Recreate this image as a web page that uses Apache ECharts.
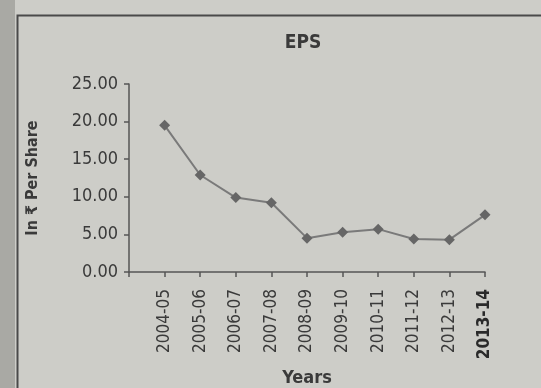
<!DOCTYPE html>
<html>
<head>
<meta charset="utf-8">
<script src="https://cdn.jsdelivr.net/npm/echarts@6/dist/echarts.min.js"></script>
<style>
  html, body { margin: 0; padding: 0; }
  #chart { width: 541px; height: 388px; }
</style>
</head>
<body>
<div id="chart"></div>
<script>
// data
const years = ['2004-05', '2005-06', '2006-07', '2007-08', '2008-09', '2009-10', '2010-11', '2011-12', '2012-13', '2013-14']
const eps = [19.5, 12.9, 9.9, 9.2, 4.5, 5.3, 5.7, 4.4, 4.3, 7.6]
const yTicks = [0, 5, 10, 15, 20, 25]

const font = "'Liberation Sans Narrow', 'DejaVu Sans Condensed', 'Noto Sans', sans-serif"
const ink = '#3a3a3a'

window.onload = function() {
    let myChart = echarts.init(document.getElementById('chart'))

    // empty slot in front so the first year sits one step right of the y axis
    let cats = [''].concat(years)
    let vals = [null].concat(eps)
    let lastIdx = cats.length - 1

    let option = {
        backgroundColor: '#cdcdc8',
        animation: false,
        textStyle: { fontFamily: font },
        graphic: [
            // darker strip on the left edge of the scan
            { type: 'rect', left: 0, top: 0, shape: { width: 15, height: 388 }, style: { fill: '#a9a9a4' }, z: -1 },
            // box frame
            { type: 'rect', left: 15, top: 13, shape: { width: 600, height: 400 }, style: { fill: 'none', stroke: '#4a4a4a', lineWidth: 2 }, z: -1 }
        ],
        title: {
            text: 'EPS',
            left: 298,
            top: 29,
            textAlign: 'center',
            textStyle: { fontFamily: font, fontSize: 19, fontWeight: 'bold', color: ink }
        },
        grid: { left: 129, right: 56, top: 84, bottom: 112 },
        xAxis: {
            type: 'category',
            boundaryGap: false,
            data: cats,
            axisLine: { lineStyle: { color: '#555', width: 1.5 } },
            axisTick: { show: true, length: 5, interval: 0, lineStyle: { color: '#555', width: 1.5 } },
            axisLabel: {
                interval: 0,
                rotate: 90,
                margin: 17,
                fontFamily: font,
                fontSize: 17,
                color: ink,
                formatter: function(v, i) {
                    return i === lastIdx ? '{b|' + v + '}' : v
                },
                rich: { b: { fontWeight: 'bold', fontSize: 17, color: '#2a2a2a', fontFamily: font } }
            },
            name: 'Years',
            nameLocation: 'middle',
            nameGap: 97,
            nameTextStyle: { fontFamily: font, fontSize: 18, fontWeight: 'bold', color: ink }
        },
        yAxis: {
            type: 'value',
            min: yTicks[0],
            max: yTicks[yTicks.length - 1],
            interval: 5,
            axisLine: { show: true, lineStyle: { color: '#555', width: 1.5 } },
            axisTick: { show: true, length: 5, lineStyle: { color: '#555', width: 1.5 } },
            splitLine: { show: false },
            axisLabel: {
                margin: 11,
                fontFamily: font,
                fontSize: 18,
                color: ink,
                formatter: function(v) { return v.toFixed(2) }
            },
            name: 'In ₹ Per Share',
            nameLocation: 'middle',
            nameRotate: 90,
            nameGap: 88,
            nameTextStyle: { fontFamily: font, fontSize: 16, fontWeight: 'bold', color: ink }
        },
        series: [{
            type: 'line',
            data: vals,
            symbol: 'diamond',
            symbolSize: 11,
            itemStyle: { color: '#666' },
            lineStyle: { color: '#7a7a7a', width: 2 }
        }]
    }

    option && myChart.setOption(option)
}
</script>
</body>
</html>
